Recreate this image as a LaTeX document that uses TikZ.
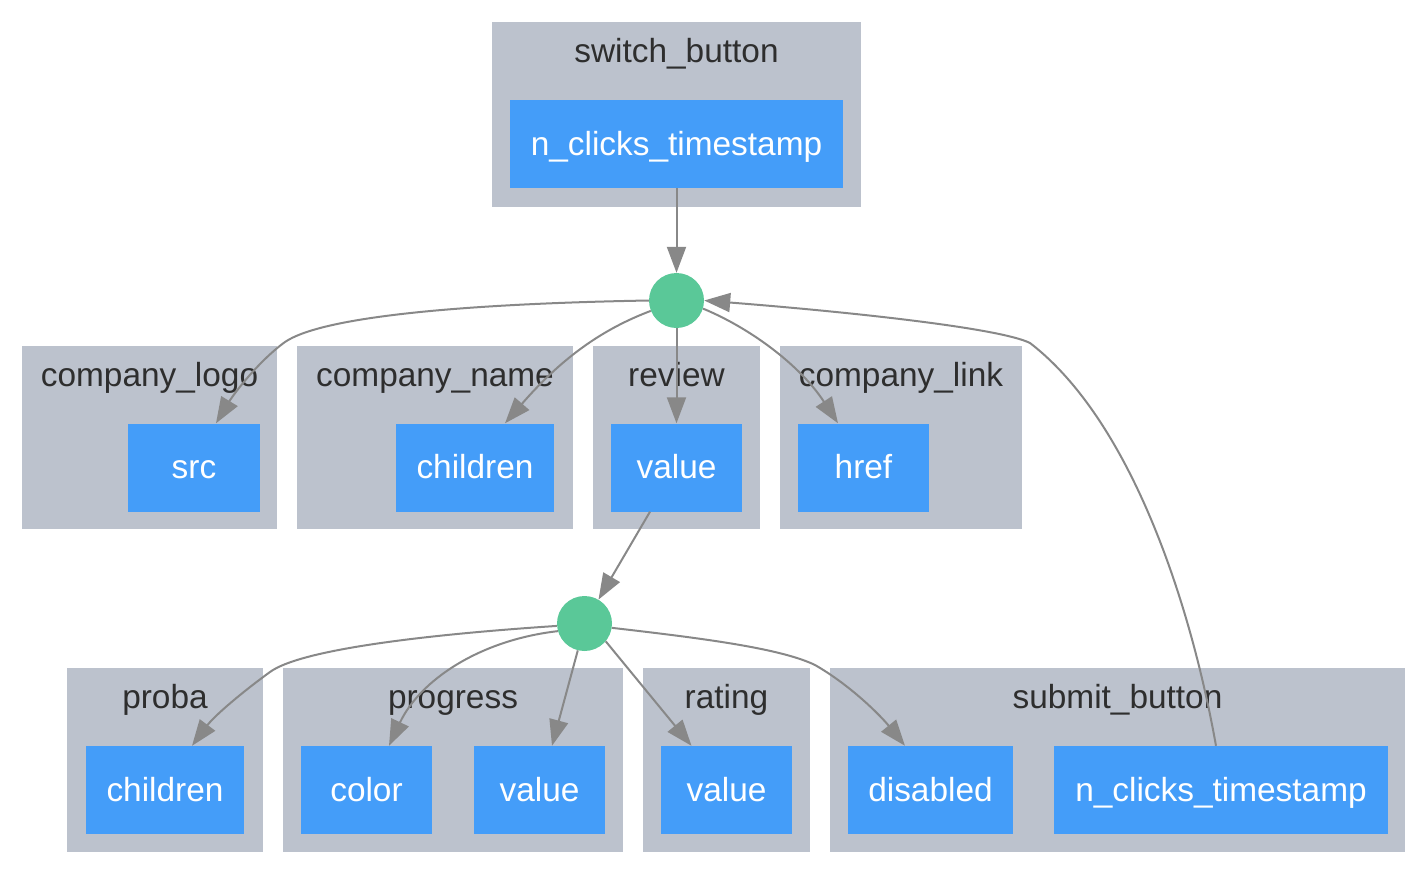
\documentclass[tikz,border=0pt]{standalone}
\usepackage{fontspec}
\setmainfont{Liberation Sans}
\usetikzlibrary{arrows.meta}
\definecolor{clfill}{HTML}{BCC2CD}
\definecolor{ndfill}{HTML}{449DF9}
\definecolor{crfill}{HTML}{5AC898}
\definecolor{edgegray}{HTML}{888888}
\definecolor{lbltext}{HTML}{2E2E2E}
\begin{document}
\begin{tikzpicture}[x=1pt,y=-1pt,
  clusterbox/.style={rectangle, fill=clfill, draw=none, inner sep=0pt},
  prop/.style={rectangle, fill=ndfill, draw=none, text=white, inner sep=0pt,
    minimum height=88pt, font=\fontsize{33.4}{40}\selectfont,
    text height=24pt, text depth=2pt},
  cltitle/.style={anchor=base, text=lbltext, inner sep=0pt,
    font=\fontsize{33.4}{40}\selectfont},
  hub/.style={circle, fill=crfill, draw=none, minimum size=55pt, inner sep=0pt},
  edge/.style={draw=edgegray, line width=2pt, -{Triangle[length=26pt,width=19pt]}}]
\useasboundingbox (0,0) rectangle (1428,870);

% clusters
\node[clusterbox, minimum width=369pt, minimum height=185pt] (clsw) at (676.5,114.5) {};
\node[clusterbox, minimum width=255pt, minimum height=183pt] (cllogo) at (149.5,437.5) {};
\node[clusterbox, minimum width=276pt, minimum height=183pt] (clname) at (435,437.5) {};
\node[clusterbox, minimum width=167pt, minimum height=183pt] (clrev) at (676.5,437.5) {};
\node[clusterbox, minimum width=242pt, minimum height=183pt] (cllink) at (901,437.5) {};
\node[clusterbox, minimum width=196pt, minimum height=184pt] (clproba) at (165,760) {};
\node[clusterbox, minimum width=340pt, minimum height=184pt] (clprog) at (453,760) {};
\node[clusterbox, minimum width=167pt, minimum height=184pt] (clrate) at (726.5,760) {};
\node[clusterbox, minimum width=575pt, minimum height=184pt] (clsub) at (1117.5,760) {};

% cluster titles
\node[cltitle] (tsw) at (676.5,62) {switch\_button};
\node[cltitle] (tlogo) at (149.5,386) {company\_logo};
\node[cltitle] (tname) at (435,386) {company\_name};
\node[cltitle] (trev) at (676.5,386) {review};
\node[cltitle] (tlink) at (901,386) {company\_link};
\node[cltitle] (tproba) at (165,708) {proba};
\node[cltitle] (tprog) at (453,708) {progress};
\node[cltitle] (trate) at (726.5,708) {rating};
\node[cltitle] (tsub) at (1117.5,708) {submit\_button};

% property nodes
\node[prop, minimum width=333pt] (swn) at (676.5,144) {n\_clicks\_timestamp};
\node[prop, minimum width=132pt] (src) at (194,467.5) {src};
\node[prop, minimum width=158pt] (namech) at (475,467.5) {children};
\node[prop, minimum width=131pt] (revval) at (676.5,467.5) {value};
\node[prop, minimum width=131pt] (href) at (863.5,467.5) {href};
\node[prop, minimum width=158pt] (probach) at (165,790) {children};
\node[prop, minimum width=131pt] (pcolor) at (366.5,790) {color};
\node[prop, minimum width=131pt] (pval) at (539.5,790) {value};
\node[prop, minimum width=131pt] (rval) at (726.5,790) {value};
\node[prop, minimum width=165pt] (dis) at (930.5,790) {disabled};
\node[prop, minimum width=334pt] (subn) at (1221,790) {n\_clicks\_timestamp};

% hubs
\node[hub] (c1) at (676.5,300.5) {};
\node[hub] (c2) at (584.5,623.5) {};

% edges
\draw[edge] (swn.south) -- (c1.north);
\draw[edge] (c1.west) .. controls (450,304) and (320,318) .. (285,342)
  .. controls (260,360) and (235,392) .. ([xshift=22pt]src.north);
\draw[edge] (c1.202) .. controls (600,330) and (560,360) .. ([xshift=30pt]namech.north);
\draw[edge] (c1.south) -- (revval.north);
\draw[edge] (c1.-17) .. controls (750,328) and (800,365) .. ([xshift=-25.5pt]href.north);
\draw[edge] ([xshift=-5pt]subn.north) .. controls (1190,600) and (1130,420) .. (1030,343)
  .. controls (1000,328) and (850,312) .. (c1.east);
\draw[edge] ([xshift=-26.5pt]revval.south) -- (c2);
\draw[edge] (c2.185) .. controls (420,635) and (300,650) .. (270,672)
  .. controls (245,690) and (215,715) .. ([xshift=27pt]probach.north);
\draw[edge] (c2.196) .. controls (480,640) and (420,680) .. ([xshift=22.5pt]pcolor.north);
\draw[edge] (c2.256) -- ([xshift=12.5pt]pval.north);
\draw[edge] (c2.-40) -- ([xshift=-35pt]rval.north);
\draw[edge] (c2.-9) .. controls (700,638) and (780,648) .. (815,665)
  .. controls (850,685) and (880,715) .. ([xshift=-25.5pt]dis.north);
\end{tikzpicture}
\end{document}
